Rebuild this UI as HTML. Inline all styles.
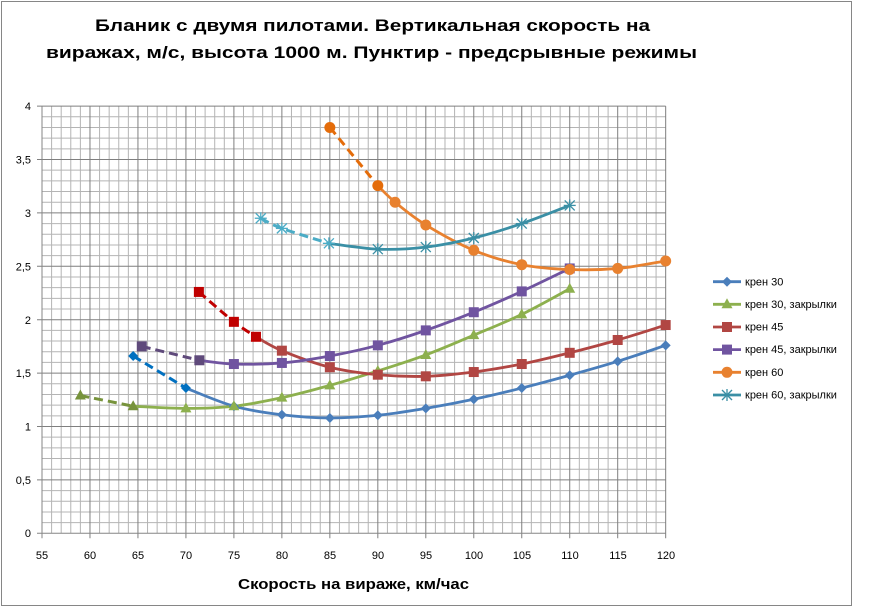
<!DOCTYPE html>
<html>
<head>
<meta charset="utf-8">
<style>
html,body{margin:0;padding:0;background:#fff;}
svg{display:block;}
text{font-family:"Liberation Sans", "DejaVu Sans", sans-serif;}
</style>
</head>
<body>
<svg id="c" width="877" height="607" viewBox="0 0 877 607" xmlns="http://www.w3.org/2000/svg">
<rect x="0" y="0" width="877" height="607" fill="#fff"/>
<rect x="1.5" y="1.5" width="850" height="604" fill="#fff" stroke="#868686" stroke-width="1"/>
<g id="grid"></g>
<g id="series"></g>
<g id="legend"></g>
<text x="95" y="31" font-size="17" font-weight="bold" fill="#000" textLength="555" lengthAdjust="spacingAndGlyphs">Бланик с двумя пилотами. Вертикальная скорость на</text>
<text x="46" y="58" font-size="17" font-weight="bold" fill="#000" textLength="651" lengthAdjust="spacingAndGlyphs">виражах, м/с, высота 1000 м. Пунктир - предсрывные режимы</text>
<text x="238" y="589" font-size="14.5" font-weight="bold" fill="#000" textLength="231" lengthAdjust="spacingAndGlyphs">Скорость  на вираже, км/час</text>
<g font-size="11" fill="#000" text-anchor="end">
<text x="31" y="537">0</text>
<text x="31" y="484">0,5</text>
<text x="31" y="430.5">1</text>
<text x="31" y="377">1,5</text>
<text x="31" y="324">2</text>
<text x="31" y="270.5">2,5</text>
<text x="31" y="217">3</text>
<text x="31" y="163.5">3,5</text>
<text x="31" y="110">4</text>
</g>
<g font-size="11" fill="#000" text-anchor="middle">
<text x="42" y="559">55</text>
<text x="90" y="559">60</text>
<text x="138" y="559">65</text>
<text x="186" y="559">70</text>
<text x="234" y="559">75</text>
<text x="282" y="559">80</text>
<text x="330" y="559">85</text>
<text x="378" y="559">90</text>
<text x="426" y="559">95</text>
<text x="474" y="559">100</text>
<text x="522" y="559">105</text>
<text x="570" y="559">110</text>
<text x="618" y="559">115</text>
<text x="666" y="559">120</text>
</g>
<g font-size="11" fill="#000">
<text x="745" y="285.5">крен 30</text>
<text x="745" y="308">крен 30, закрылки</text>
<text x="745" y="330.5">крен 45</text>
<text x="745" y="353">крен 45, закрылки</text>
<text x="745" y="376">крен 60</text>
<text x="745" y="398.5">крен 60, закрылки</text>
</g>
</svg>
<script>
(function(){
var NS="http://www.w3.org/2000/svg";
function X(v){return 42+(v-55)*9.595;}
function Y(v){return 533.3-v*106.8;}
function el(tag,attrs,parent){var e=document.createElementNS(NS,tag);for(var k in attrs)e.setAttribute(k,attrs[k]);parent.appendChild(e);return e;}
var grid=document.getElementById('grid');
// minor grid
for(var i=56;i<=120;i++){ if(i%5==0) continue; var x=X(i); el('line',{x1:x,y1:Y(4),x2:x,y2:Y(0),stroke:'#b4b4b4','stroke-width':1},grid);}
for(var j=1;j<=40;j++){ if(j%5==0) continue; var y=Y(j/10); el('line',{x1:X(55),y1:y,x2:X(120),y2:y,stroke:'#b4b4b4','stroke-width':1},grid);}
// major grid
for(var i=60;i<=120;i+=5){ var x=X(i); el('line',{x1:x,y1:Y(4),x2:x,y2:Y(0)+5,stroke:'#7f7f7f','stroke-width':1},grid);}
for(var j=5;j<=40;j+=5){ var y=Y(j/10); el('line',{x1:X(55)-5,y1:y,x2:X(120),y2:y,stroke:'#7f7f7f','stroke-width':1},grid);}
// axes
el('line',{x1:X(55),y1:Y(4),x2:X(55),y2:Y(0)+5,stroke:'#868686','stroke-width':1},grid);
el('line',{x1:X(55)-5,y1:Y(0),x2:X(120),y2:Y(0),stroke:'#868686','stroke-width':1},grid);

function smooth(pts){
  var P=pts.map(function(p){return [X(p[0]),Y(p[1])];});
  var d='M'+P[0][0].toFixed(2)+','+P[0][1].toFixed(2);
  for(var i=0;i<P.length-1;i++){
    var p0=P[i-1]||P[i], p1=P[i], p2=P[i+1], p3=P[i+2]||P[i+1];
    var c1=[p1[0]+(p2[0]-p0[0])/6, p1[1]+(p2[1]-p0[1])/6];
    var c2=[p2[0]-(p3[0]-p1[0])/6, p2[1]-(p3[1]-p1[1])/6];
    d+=' C'+c1[0].toFixed(2)+','+c1[1].toFixed(2)+' '+c2[0].toFixed(2)+','+c2[1].toFixed(2)+' '+p2[0].toFixed(2)+','+p2[1].toFixed(2);
  }
  return d;
}
function marker(type,cx,cy,col,parent){
  if(type=='diamond'){el('polygon',{points:(cx)+','+(cy-5)+' '+(cx+5)+','+cy+' '+cx+','+(cy+5)+' '+(cx-5)+','+cy,fill:col},parent);}
  else if(type=='tri'){el('polygon',{points:(cx)+','+(cy-6)+' '+(cx+5.5)+','+(cy+4)+' '+(cx-5.5)+','+(cy+4),fill:col},parent);}
  else if(type=='square'){el('rect',{x:cx-5,y:cy-5,width:10,height:10,fill:col},parent);}
  else if(type=='circle'){el('circle',{cx:cx,cy:cy,r:5.5,fill:col},parent);}
  else if(type=='star'){
    var g=el('g',{stroke:col,'stroke-width':1.3},parent);
    el('line',{x1:cx-5,y1:cy-5,x2:cx+5,y2:cy+5},g);
    el('line',{x1:cx-5,y1:cy+5,x2:cx+5,y2:cy-5},g);
    el('line',{x1:cx,y1:cy-6,x2:cx,y2:cy+6},g);
    el('line',{x1:cx-6,y1:cy,x2:cx+6,y2:cy},g);
  }
}
var S=[
 {m:'diamond',sc:'#4A7EBB',dc:'#0070C0',
  d:[[64.5,1.66],[70,1.36]],
  s:[[70,1.36],[75,1.19],[80,1.11],[85,1.08],[90,1.105],[95,1.17],[100,1.255],[105,1.36],[110,1.48],[115,1.61],[120,1.76]]},
 {m:'tri',sc:'#8DB04E',dc:'#77933C',
  d:[[59,1.29],[64.5,1.19]],
  s:[[64.5,1.19],[70,1.17],[75,1.19],[80,1.27],[85,1.385],[90,1.52],[95,1.67],[100,1.855],[105,2.05],[110,2.29]]},
 {m:'square',sc:'#B14643',dc:'#C00000',
  d:[[71.35,2.26],[75,1.98],[77.3,1.84]],
  s:[[77.3,1.84],[80,1.71],[85,1.555],[90,1.485],[95,1.47],[100,1.51],[105,1.585],[110,1.69],[115,1.81],[120,1.95]]},
 {m:'square',sc:'#7054A0',dc:'#5F4A7B',
  d:[[65.4,1.75],[71.4,1.62]],
  s:[[71.4,1.62],[75,1.585],[80,1.595],[85,1.66],[90,1.76],[95,1.90],[100,2.07],[105,2.265],[110,2.48]]},
 {m:'circle',sc:'#E8812F',dc:'#E46C0A',
  d:[[85,3.80],[90,3.255]],
  s:[[90,3.255],[91.8,3.10],[95,2.887],[100,2.65],[105,2.515],[110,2.47],[115,2.48],[120,2.55]]},
 {m:'star',sc:'#3A8FA5',dc:'#4BACC6',
  d:[[77.8,2.95],[80,2.855],[84.9,2.715]],
  s:[[84.9,2.715],[90,2.66],[95,2.68],[100,2.765],[105,2.90],[110,3.07]]}
];
var ser=document.getElementById('series');
S.forEach(function(s){
  el('path',{d:smooth(s.s),fill:'none',stroke:s.sc,'stroke-width':2.8,'stroke-linecap':'round'},ser);
  el('path',{d:smooth(s.d),fill:'none',stroke:s.dc,'stroke-width':3,'stroke-dasharray':'9 5'},ser);
});
S.forEach(function(s){
  s.s.forEach(function(p,i){ if(i==0) return; marker(s.m,X(p[0]),Y(p[1]),s.sc,ser);});
  s.d.forEach(function(p){ marker(s.m,X(p[0]),Y(p[1]),s.dc,ser);});
});
var leg=document.getElementById('legend');
var ly=[281.7,304.3,327,349.6,372.3,395];
S.forEach(function(s,i){
  el('line',{x1:713,y1:ly[i],x2:741,y2:ly[i],stroke:s.sc,'stroke-width':2.8},leg);
  marker(s.m,727,ly[i],s.sc,leg);
});
})();
</script>
</body>
</html>
